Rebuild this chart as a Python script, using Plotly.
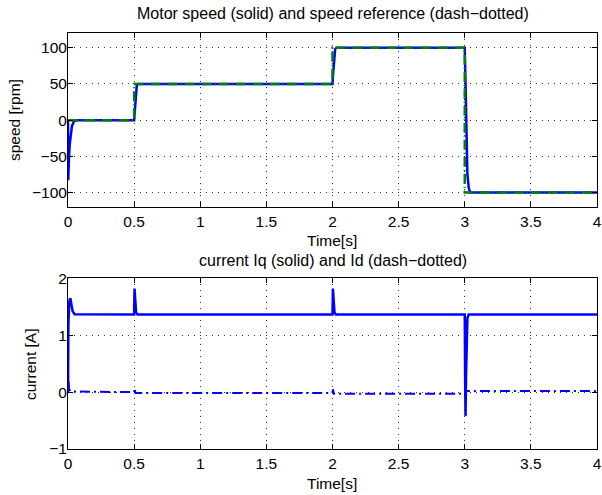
import plotly.graph_objects as go
from plotly.subplots import make_subplots

# Motor speed response (rpm) sampled around each transient
speed_t = [0, 0.002, 0.006, 0.012, 0.02, 0.03, 0.045, 0.06,
           0.5, 0.505, 0.51, 0.515, 0.52, 0.53,
           2.0, 2.005, 2.01, 2.015, 2.02, 2.03,
           3.0, 3.005, 3.01, 3.015, 3.02, 3.03, 3.04, 4.0]
speed = [0, -83, -60, -35, -18, -8, -2, 0,
         0, 15, 32, 43, 48, 50,
         50, 65, 82, 93, 98, 100,
         100, 60, 10, -40, -75, -93, -100, -100]

# Speed reference (rpm)
ref_t = [0, 0.5, 0.5, 2.0, 2.0, 3.0, 3.0, 4.0]
ref = [0, 0, 50, 50, 100, 100, -100, -100]

# q-axis current (A)
iq_t = [0, 0.003, 0.01, 0.018, 0.025, 0.035, 0.05,
        0.5, 0.503, 0.508, 0.515, 0.525,
        2.0, 2.003, 2.008, 2.015, 2.025,
        3.0, 3.003, 3.006, 3.01, 3.015, 3.02, 3.03, 4.0]
iq = [0, 1.2, 1.6, 1.65, 1.55, 1.42, 1.37,
      1.365, 1.82, 1.55, 1.40, 1.365,
      1.365, 1.82, 1.55, 1.40, 1.365,
      1.365, 0.2, -0.42, 0.3, 1.1, 1.3, 1.365, 1.365]

# d-axis current (A)
id_t = [0, 0.003, 0.008, 0.02, 0.5, 0.503, 0.51, 2.0, 2.003, 2.01,
        3.0, 3.003, 3.01, 4.0]
id_ = [0, 0.27, 0.05, 0.01, 0.0, 0.07, -0.018, -0.018, 0.05, -0.028,
       -0.028, -0.06, 0.02, 0.02]

x_ticks = [0, 0.5, 1, 1.5, 2, 2.5, 3, 3.5, 4]
x_ticktext = ["0", "0.5", "1", "1.5", "2", "2.5", "3", "3.5", "4"]
speed_ticks = [-100, -50, 0, 50, 100]
current_ticks = [-1, 0, 1, 2]

FONT = "Liberation Sans, Arial, Helvetica, sans-serif"
FS = 15.5
BLUE = "#0000ff"
GREEN = "#008000"

fig = make_subplots(rows=2, cols=1)

fig.add_trace(go.Scatter(x=speed_t, y=speed, mode="lines",
                         line=dict(color=BLUE, width=2.5)), row=1, col=1)
fig.add_trace(go.Scatter(x=ref_t, y=ref, mode="lines",
                         line=dict(color=GREEN, width=2.5, dash="10px,3px,1px,3px")),
              row=1, col=1)
fig.add_trace(go.Scatter(x=iq_t, y=iq, mode="lines",
                         line=dict(color=BLUE, width=2.5)), row=2, col=1)
fig.add_trace(go.Scatter(x=id_t, y=id_, mode="lines",
                         line=dict(color=BLUE, width=2, dash="10px,4px,2px,4px")),
              row=2, col=1)

W, H = 602, 495
txt = dict(family=FONT, size=FS, color="black")

axis_common = dict(
    showline=True, linecolor="black", linewidth=1, mirror="allticks",
    ticks="inside", ticklen=5, tickcolor="black", tickwidth=1,
    showgrid=True, gridcolor="#333333", gridwidth=1, griddash="1px,5px",
    zeroline=False, tickfont=txt, automargin=False,
)

# axis boxes placed in page pixels (top-left origin)
fig.update_xaxes(range=[0, 4], tickvals=x_ticks, ticktext=x_ticktext,
                 domain=[68 / W, 597 / W], **axis_common)
fig.update_yaxes(ticklabelstandoff=-3, **axis_common)
fig.update_yaxes(range=[-120, 120], tickvals=speed_ticks,
                 domain=[1 - 207 / H, 1 - 33.3 / H], row=1, col=1)
fig.update_yaxes(range=[-1, 2], tickvals=current_ticks,
                 domain=[1 - 449 / H, 1 - 278.3 / H], row=2, col=1)


def label(text, x, y, angle=0, size=FS):
    fig.add_annotation(text=text, x=x / W, y=1 - y / H, xref="paper", yref="paper",
                       showarrow=False, font=dict(family=FONT, size=size, color="black"),
                       textangle=angle, xanchor="center", yanchor="middle")


label("Motor speed (solid) and speed reference (dash\u2212dotted)", 333, 14, size=16)
label("Time[s]", 332, 240)
label("speed [rpm]", 14, 120, -90)
label("current Iq (solid) and Id (dash\u2212dotted)", 333, 260, size=16)
label("Time[s]", 332, 483)
label("current [A]", 30, 364, -90)

fig.update_layout(
    width=W, height=H, showlegend=False,
    margin=dict(l=0, r=0, t=0, b=0, autoexpand=False),
    plot_bgcolor="white", paper_bgcolor="white",
    font=txt,
)

fig.write_html("out.html")
